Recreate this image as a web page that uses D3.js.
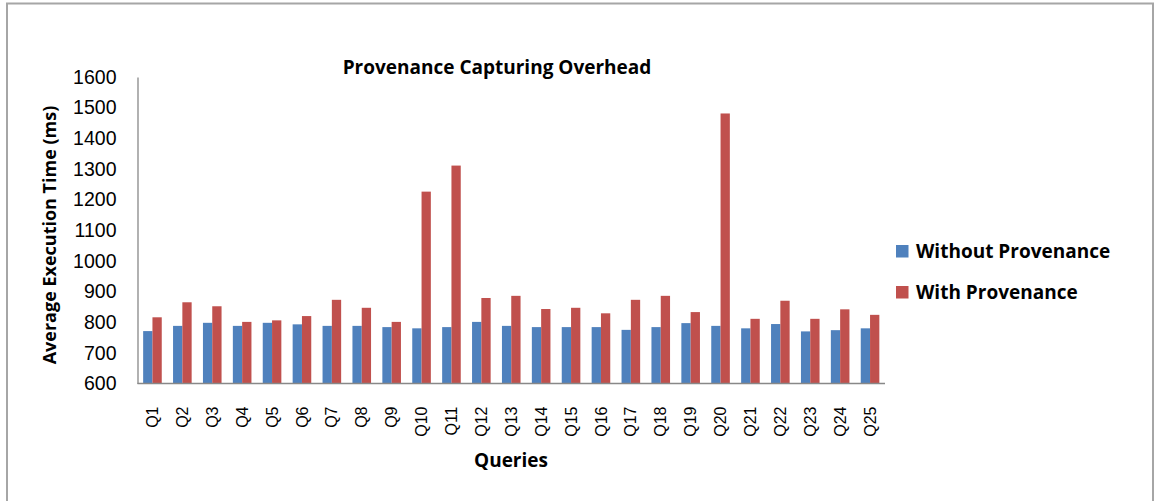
<!DOCTYPE html>
<html>
<head>
<meta charset="utf-8">
<script src="https://cdn.jsdelivr.net/npm/d3@7"></script>
<style>
  body { margin: 0; background: #fff; }
  text { font-family: "Liberation Sans", Arial, sans-serif; fill: #000; }
  .bold { font-family: "Open Sans", "Liberation Sans", sans-serif; font-weight: bold; }
</style>
</head>
<body>
<div id="chart"></div>
<script>
// data
var queries = ["Q1","Q2","Q3","Q4","Q5","Q6","Q7","Q8","Q9","Q10","Q11","Q12","Q13",
               "Q14","Q15","Q16","Q17","Q18","Q19","Q20","Q21","Q22","Q23","Q24","Q25"];
var withoutProv = [771, 788, 798, 788, 798, 793, 788, 788, 784, 780, 784, 801, 788,
                   784, 784, 784, 775, 784, 797, 788, 780, 794, 770, 774, 780];
var withProv = [816, 865, 852, 801, 806, 820, 873, 847, 801, 1226, 1311, 879, 886,
                843, 847, 829, 873, 886, 833, 1481, 811, 870, 811, 842, 824];
var seriesNames = ["Without Provenance", "With Provenance"];
var yTicks = [600, 700, 800, 900, 1000, 1100, 1200, 1300, 1400, 1500, 1600];

var colors = ["#4f81bd", "#c0504d"];

var width = 1155, height = 501;
var plot = {left: 137.5, right: 885, top: 77, bottom: 383.5};

var svg = d3.select("#chart").append("svg")
    .attr("width", width)
    .attr("height", height);

// outer frame of the chart area (bottom edge is cut off)
svg.append("rect")
    .attr("x", 7).attr("y", 3.5)
    .attr("width", 1146).attr("height", 520)
    .attr("fill", "none")
    .attr("stroke", "#a6a6a6")
    .attr("stroke-width", 2);

var x = d3.scaleBand()
    .domain(queries)
    .range([plot.left, plot.right])
    .paddingInner(0.378)
    .paddingOuter(0.189);

var xInner = d3.scaleBand()
    .domain([0, 1])
    .range([0, x.bandwidth()]);

var y = d3.scaleLinear()
    .domain([600, 1600])
    .range([plot.bottom, plot.top]);

var rows = queries.map(function(q, i) { return {q: q, vals: [withoutProv[i], withProv[i]]}; });

// bars
var groups = svg.selectAll(".grp")
    .data(rows)
  .enter().append("g")
    .attr("class", "grp")
    .attr("transform", function(d) { return "translate(" + x(d.q) + ",0)"; });

groups.selectAll("rect")
    .data(function(d) { return d.vals; })
  .enter().append("rect")
    .attr("x", function(d, i) { return xInner(i); })
    .attr("y", function(d) { return y(d); })
    .attr("width", xInner.bandwidth())
    .attr("height", function(d) { return y(600) - y(d); })
    .attr("fill", function(d, i) { return colors[i]; });

// y axis
var yAxis = svg.append("g")
    .attr("transform", "translate(" + plot.left + ",0)")
    .call(d3.axisLeft(y).tickValues(yTicks).tickFormat(d3.format("d")).tickSize(0).tickPadding(21));
yAxis.select(".domain").attr("stroke", "#888").attr("stroke-width", 1.3);
yAxis.selectAll("text")
    .attr("font-size", 19.5)
    .attr("font-family", "Liberation Sans, Arial, sans-serif")
    .attr("fill", "#000");

// x axis
var xAxis = svg.append("g")
    .attr("transform", "translate(0," + plot.bottom + ")")
    .call(d3.axisBottom(x).tickSize(0).tickSizeOuter(0));
xAxis.select(".domain").attr("stroke", "#888").attr("stroke-width", 1.3)
    .attr("d", "M" + plot.left + ",0H" + plot.right);
xAxis.selectAll("text")
    .attr("font-size", 16)
    .attr("font-family", "Liberation Sans, Arial, sans-serif")
    .attr("fill", "#000")
    .attr("text-anchor", "end")
    .attr("dy", "0.35em")
    .attr("transform", "translate(0,23) rotate(-90)")
    .attr("x", 0).attr("y", 0);

// title
svg.append("text")
    .attr("class", "bold")
    .attr("x", 497).attr("y", 74)
    .attr("text-anchor", "middle")
    .attr("font-size", 19)
    .text("Provenance Capturing Overhead");

// axis titles
svg.append("text")
    .attr("class", "bold")
    .attr("transform", "translate(56,235) rotate(-90)")
    .attr("text-anchor", "middle")
    .attr("font-size", 18)
    .text("Average Execution Time (ms)");

svg.append("text")
    .attr("class", "bold")
    .attr("x", 511).attr("y", 467)
    .attr("text-anchor", "middle")
    .attr("font-size", 19)
    .text("Queries");

// legend
var legend = svg.selectAll(".legend")
    .data(seriesNames)
  .enter().append("g")
    .attr("class", "legend")
    .attr("transform", function(d, i) { return "translate(896," + (245 + i * 41) + ")"; });

legend.append("rect")
    .attr("width", 12.5).attr("height", 12.5)
    .attr("fill", function(d, i) { return colors[i]; });

legend.append("text")
    .attr("class", "bold")
    .attr("x", 20).attr("y", 13)
    .attr("font-size", 19)
    .text(function(d) { return d; });
</script>
</body>
</html>
